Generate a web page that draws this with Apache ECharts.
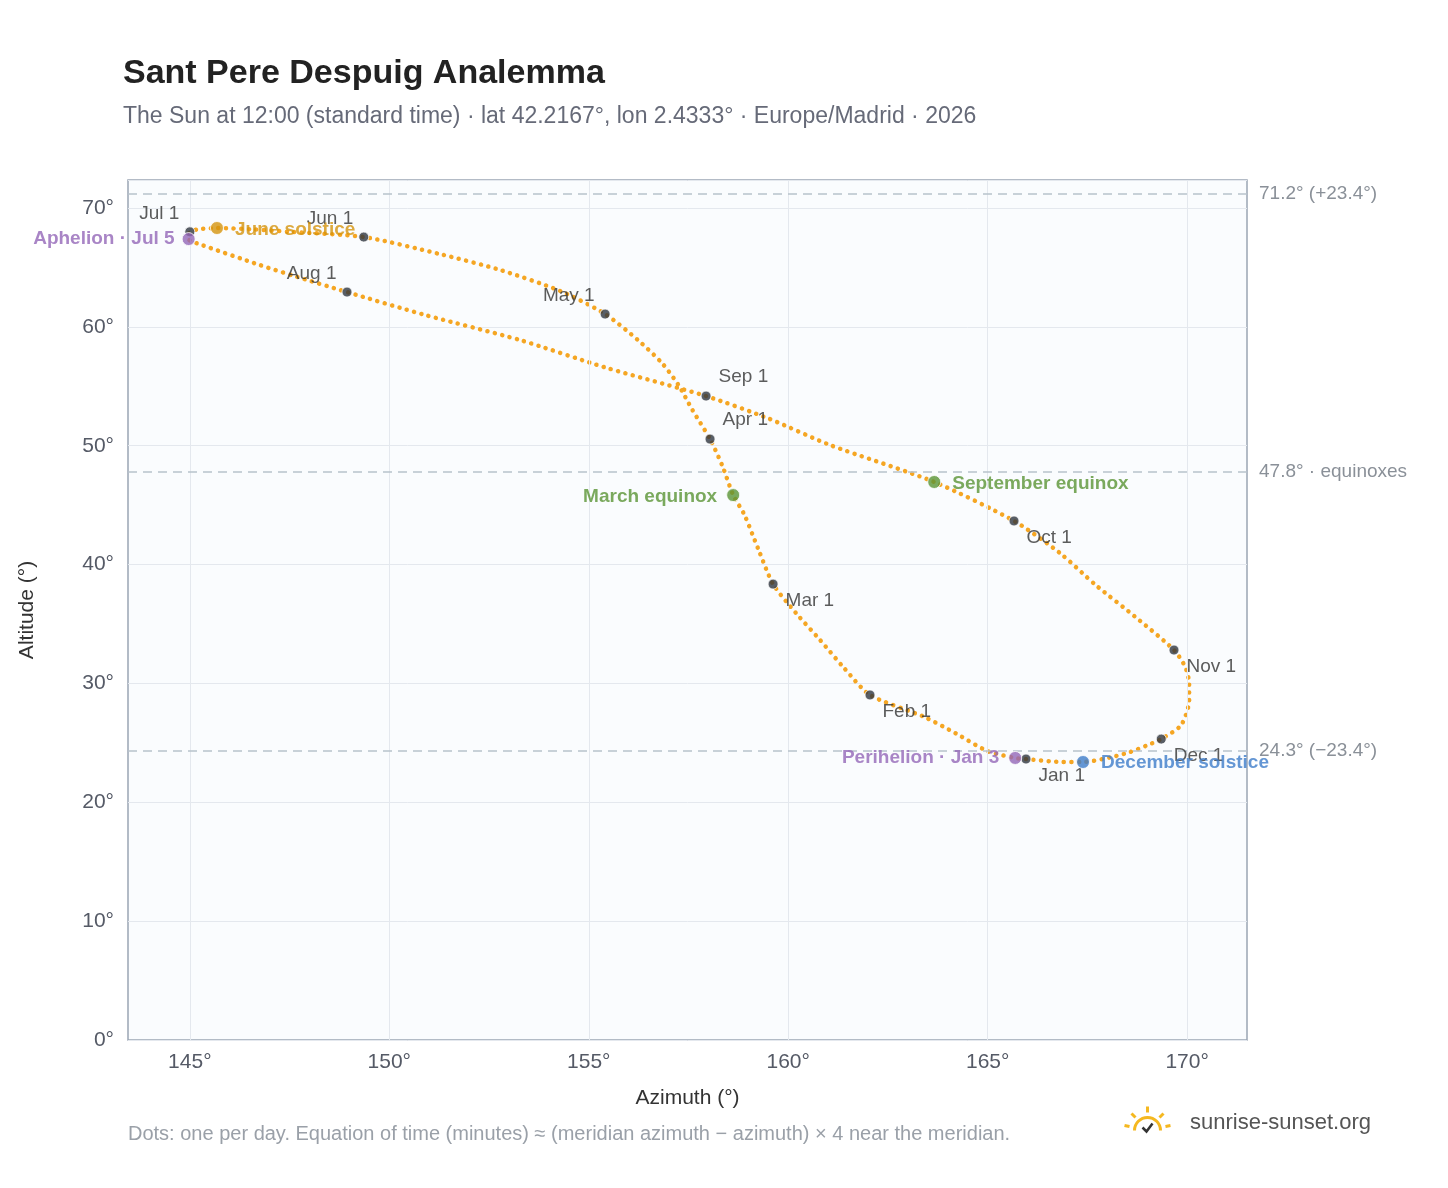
<!DOCTYPE html><html><head><meta charset="utf-8"><script src="https://cdn.jsdelivr.net/npm/echarts@6/dist/echarts.min.js"></script>
<style>body{margin:0;background:#fff}#c{width:1448px;height:1188px}</style></head><body><div id="c"></div><script>
// daily path (sampled) azimuth / altitude
const pathAz=[165.96,165.69,165.0,164.2,163.4,162.05,161.4,160.8,160.2,159.62,159.25,158.9,158.62,158.35,158.04,157.6,157.25,156.85,156.23,155.41,154.3,152.77,151.3,149.36,147.5,146.6,145.68,145.2,145.0,144.97,145.3,146.76,147.6,148.94,150.9,153.27,155.4,157.94,159.5,161.05,163.66,165.66,166.8,167.7,168.7,169.67,169.95,170.05,170.05,169.85,169.35,169.0,168.57,168.1,167.39,166.8,166.1];
const pathAlt=[23.64,23.73,24.3,25.8,27.2,29.03,31.3,33.65,35.9,38.36,41.3,44.2,45.85,48.3,50.56,53.0,55.1,56.9,58.9,61.08,63.0,64.8,66.1,67.56,68.0,68.2,68.32,68.2,68.0,67.39,66.9,65.2,64.3,62.93,61.0,58.9,56.6,54.18,52.3,50.06,46.95,43.67,41.0,38.3,35.6,32.81,31.4,30.0,28.6,26.5,25.32,24.8,24.23,23.8,23.39,23.4,23.6];
const months=['Jan 1','Feb 1','Mar 1','Apr 1','May 1','Jun 1','Jul 1','Aug 1','Sep 1','Oct 1','Nov 1','Dec 1'];
const monthAz=[165.96,162.05,159.62,158.04,155.41,149.36,145.0,148.94,157.94,165.66,169.67,169.35];
const monthAlt=[23.64,29.03,38.36,50.56,61.08,67.56,68.0,62.93,54.18,43.67,32.81,25.32];
const specialNames=['June solstice','Aphelion · Jul 5','March equinox','September equinox','Perihelion · Jan 3','December solstice'];
const specialAz=[145.68,144.97,158.62,163.66,165.69,167.39];
const specialAlt=[68.32,67.39,45.85,46.95,23.73,23.39];
const refLines=[[71.2,'71.2° (+23.4°)'],[47.8,'47.8° · equinoxes'],[24.3,'24.3° (−23.4°)']];
const xTicks=[145,150,155,160,165,170];

const BR=['right',[2,17]],AR=['right',[2,-19]],AL=['left',[0,-18]];
const monthPos=[BR,BR,BR,AR,AL,AL,AL,AL,AR,BR,BR,BR];
const specCol=['#d4940e','#9466b8','#5a9435','#5a9435','#9466b8','#3d7cc9'];
const specPos=['right','left','left','right','left','right'];
const specOff=[[6,2],[-2,0],[-4,2],[6,2],[-4,0],[6,1]];
const ch=echarts.init(document.getElementById('c'));
const F='"Liberation Sans", Helvetica, Arial, sans-serif';
ch.setOption({
 backgroundColor:'#fff',textStyle:{fontFamily:F},
 title:{text:'Sant Pere Despuig Analemma',subtext:'The Sun at 12:00 (standard time) · lat 42.2167°, lon 2.4333° · Europe/Madrid · 2026',left:118,top:52,textStyle:{fontSize:34,fontWeight:'bold',color:'#222',fontFamily:F},subtextStyle:{fontSize:23,color:'#666a78',fontFamily:F},itemGap:14},
 grid:{left:128,right:201,top:180,bottom:148,show:true,backgroundColor:'#fafcfe',borderColor:'#9aa5b4',borderWidth:1.5},
 xAxis:{type:'value',min:143.45,max:171.5,name:'Azimuth (°)',nameLocation:'middle',nameGap:48,nameTextStyle:{fontSize:21,color:'#333'},
  axisLine:{show:false},axisTick:{show:false},splitLine:{show:false},
  axisLabel:{customValues:xTicks,formatter:v=>v+'°',fontSize:21,color:'#555a66',margin:12}},
 yAxis:{type:'value',min:0,max:72.36,interval:10,name:'Altitude (°)',nameLocation:'middle',nameGap:90,nameTextStyle:{fontSize:21,color:'#333'},
  axisLine:{show:false},axisTick:{show:false},splitLine:{lineStyle:{color:'#e4e8ee'}},
  axisLabel:{formatter:v=>v+'°',fontSize:21,color:'#555a66',margin:14,showMaxLabel:false}},
 series:[
  {type:'line',data:[],silent:true,markLine:{symbol:'none',silent:true,label:{show:false},lineStyle:{color:'#e4e8ee',type:'solid',width:1},data:xTicks.map(v=>({xAxis:v}))}},
  {type:'line',data:[],silent:true,markLine:{symbol:'none',silent:true,lineStyle:{color:'#b8c2cc',type:[9,6],width:1.5},
    label:{position:'end',fontSize:19,color:'#8a9098',distance:12},
    data:refLines.map(r=>({yAxis:r[0],label:{formatter:r[1]}}))}},
  {type:'line',smooth:0.25,showSymbol:false,data:pathAz.map((a,i)=>[a,pathAlt[i]]),lineStyle:{color:'#f5a623',width:4.5,type:[0.1,7.5],cap:'round'},z:3},
  {type:'scatter',symbolSize:10,itemStyle:{color:'#2f3640',borderColor:'#fff',borderWidth:1},z:5,
   data:months.map((m,i)=>({value:[monthAz[i],monthAlt[i]],label:{show:true,formatter:m,position:monthPos[i][0],offset:monthPos[i][1],fontSize:19,color:'#333'}}))},
  {type:'scatter',symbolSize:13,z:6,itemStyle:{borderColor:'#fff',borderWidth:1},
   data:specialNames.map((n,i)=>({value:[specialAz[i],specialAlt[i]],itemStyle:{color:specCol[i]},label:{show:true,formatter:n,position:specPos[i],offset:specOff[i],fontSize:19,fontWeight:'bold',color:specCol[i]}}))}
 ],
 graphic:[
  {type:'text',left:128,top:1124,style:{text:'Dots: one per day. Equation of time (minutes) ≈ (meridian azimuth − azimuth) × 4 near the meridian.',fontSize:20,fill:'#9aa0a8',fontFamily:F}},
  {type:'text',left:1190,top:1112,style:{text:'sunrise-sunset.org',fontSize:22,fill:'#555',fontFamily:F}},
  {type:'group',left:1122,top:1104,children:[
   {type:'arc',shape:{cx:24,cy:26,r:13,startAngle:Math.PI,endAngle:2*Math.PI},style:{stroke:'#f5b820',lineWidth:3,fill:null}},
   {type:'line',shape:{x1:24,y1:2,x2:24,y2:8},style:{stroke:'#f5b820',lineWidth:3}},
   {type:'line',shape:{x1:8,y1:9,x2:12,y2:13},style:{stroke:'#f5b820',lineWidth:3}},
   {type:'line',shape:{x1:40,y1:9,x2:36,y2:13},style:{stroke:'#f5b820',lineWidth:3}},
   {type:'line',shape:{x1:1,y1:21,x2:6,y2:22},style:{stroke:'#f5b820',lineWidth:3}},
   {type:'line',shape:{x1:47,y1:21,x2:42,y2:22},style:{stroke:'#f5b820',lineWidth:3}},
   {type:'polyline',shape:{points:[[19,23],[23,27],[29,19]]},style:{stroke:'#333',lineWidth:2.5,fill:null}}
  ]}
 ]
});
</script></body></html>
